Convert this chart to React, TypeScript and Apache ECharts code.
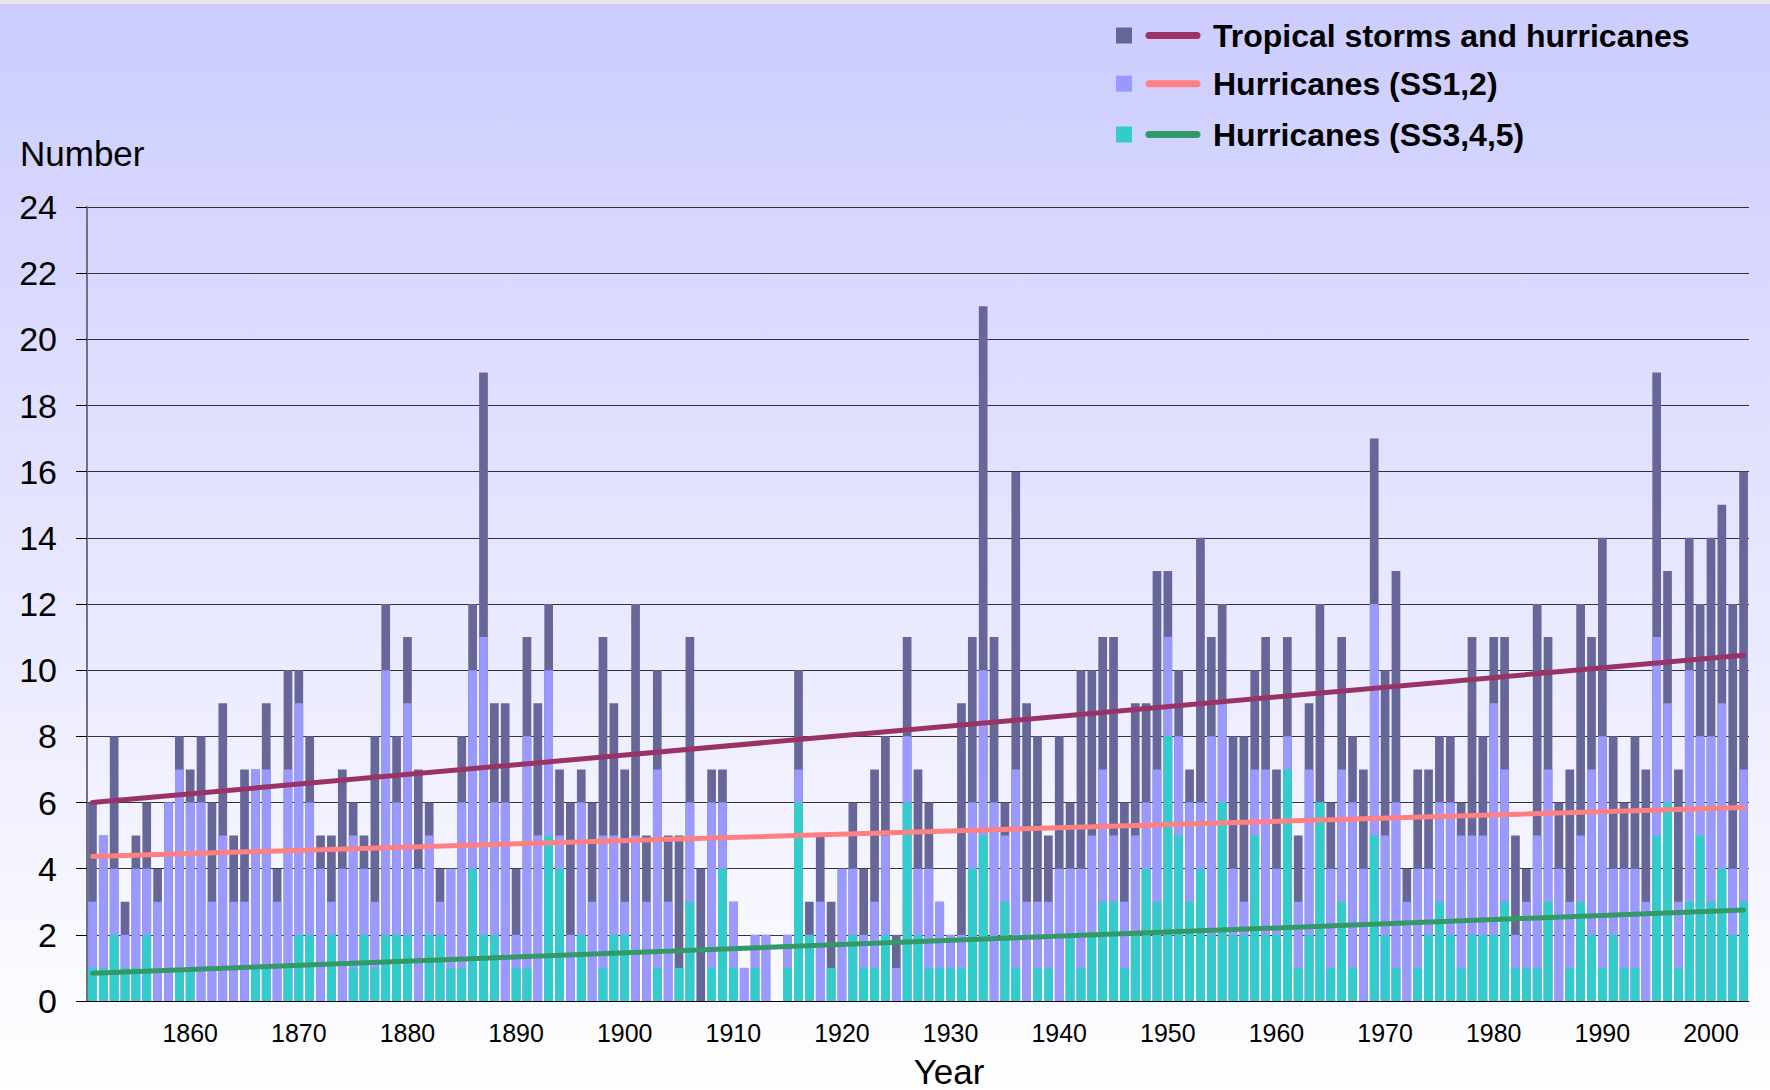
import React, { useEffect, useRef } from "react";
import * as echarts from "echarts";

const FIRST_YEAR = 1851;
const years: string[] = [];
for (let y = FIRST_YEAR; y <= 2003; y++) years.push(String(y));

// Tropical storms and hurricanes (total), 1851-2003
const totalStorms = [
  6, 5, 8, 3, 5, 6, 4, 6, 8, 7,
  8, 6, 9, 5, 7, 7, 9, 4, 10, 10,
  8, 5, 5, 7, 6, 5, 8, 12, 8, 11,
  7, 6, 4, 4, 8, 12, 19, 9, 9, 4,
  11, 9, 12, 7, 6, 7, 6, 11, 9, 7,
  12, 5, 10, 5, 5, 11, 4, 7, 7, 3,
  1, 2, 2, 0, 2, 10, 3, 5, 3, 4,
  6, 4, 7, 8, 2, 11, 7, 6, 3, 2,
  9, 11, 21, 11, 6, 16, 9, 8, 5, 8,
  6, 10, 10, 11, 11, 6, 9, 9, 13, 13,
  10, 7, 14, 11, 12, 8, 8, 10, 11, 7,
  11, 5, 9, 12, 6, 11, 8, 7, 17, 10,
  13, 4, 7, 7, 8, 8, 6, 11, 8, 11,
  11, 5, 4, 12, 11, 6, 7, 12, 11, 14,
  8, 6, 8, 7, 19, 13, 7, 14, 12, 14,
  15, 12, 16,
];

// Hurricanes, 1851-2003
const hurricanes = [
  3, 5, 4, 2, 4, 4, 3, 6, 7, 6,
  6, 3, 5, 3, 3, 7, 7, 3, 7, 9,
  6, 4, 3, 4, 5, 4, 3, 10, 6, 9,
  4, 5, 3, 4, 6, 10, 11, 6, 6, 2,
  8, 5, 10, 5, 2, 6, 3, 5, 5, 3,
  5, 3, 7, 3, 1, 6, 0, 6, 6, 3,
  1, 2, 2, 0, 2, 7, 2, 3, 1, 4,
  4, 2, 3, 5, 1, 8, 4, 4, 3, 2,
  2, 6, 10, 6, 5, 7, 3, 3, 3, 4,
  4, 4, 5, 7, 5, 3, 5, 6, 7, 11,
  8, 6, 6, 8, 9, 4, 3, 7, 7, 4,
  8, 3, 7, 6, 4, 7, 6, 4, 12, 5,
  6, 3, 4, 4, 6, 6, 5, 5, 5, 9,
  7, 2, 3, 5, 7, 4, 3, 5, 7, 8,
  4, 4, 4, 3, 11, 9, 3, 10, 8, 8,
  9, 4, 7,
];

// Major hurricanes (SS3,4,5), 1851-2003
const majorHurricanes = [
  1, 1, 2, 1, 1, 2, 0, 0, 1, 1,
  0, 0, 0, 0, 0, 1, 1, 0, 1, 2,
  2, 0, 2, 0, 1, 2, 1, 2, 2, 2,
  0, 2, 2, 1, 1, 4, 2, 2, 0, 1,
  1, 0, 5, 4, 0, 2, 0, 1, 2, 2,
  0, 0, 1, 0, 1, 3, 0, 1, 4, 1,
  0, 1, 0, 0, 1, 6, 2, 0, 1, 0,
  2, 1, 1, 2, 0, 6, 2, 1, 1, 1,
  1, 4, 5, 0, 3, 1, 0, 1, 1, 0,
  2, 1, 2, 3, 3, 1, 2, 4, 3, 8,
  5, 3, 4, 2, 6, 2, 2, 5, 2, 2,
  7, 1, 2, 6, 1, 3, 1, 0, 5, 2,
  1, 0, 1, 2, 3, 2, 1, 2, 2, 2,
  3, 1, 1, 1, 3, 0, 1, 3, 2, 1,
  2, 1, 1, 0, 5, 6, 1, 3, 5, 3,
  4, 2, 3,
];

// Linear trend lines: [year, value] at start and end
const trendStorms = [[1851, 6.0], [2003, 10.45]];
const trendHurricanes = [[1851, 4.37], [2003, 5.85]];
const trendMajor = [[1851, 0.84], [2003, 2.75]];

const yTicks = { min: 0, max: 24, interval: 2 };

const legendItems = [
  { name: "Tropical storms and hurricanes", bar: "#666699", line: "#993366" },
  { name: "Hurricanes (SS1,2)", bar: "#9999FF", line: "#FF8080" },
  { name: "Hurricanes (SS3,4,5)", bar: "#33CCCC", line: "#339966" },
];

const FONT = "'Liberation Sans', Arial, Helvetica, sans-serif";

export default function App() {
  const ref = useRef<HTMLDivElement>(null);

  useEffect(() => {
    if (!ref.current) return;
    const chart = echarts.init(ref.current, null, { renderer: "svg" });

    const legendGraphics: any[] = [];
    const rowY = [35.5, 83.7, 134.5];
    legendItems.forEach((it, i) => {
      const y = rowY[i];
      legendGraphics.push({
        type: "rect",
        shape: { x: 1116, y: y - 8, width: 16, height: 16 },
        style: { fill: it.bar },
        silent: true,
      });
      legendGraphics.push({
        type: "line",
        shape: { x1: 1149, y1: y, x2: 1197, y2: y },
        style: { stroke: it.line, lineWidth: 7, lineCap: "round" },
        silent: true,
      });
      legendGraphics.push({
        type: "text",
        x: 1213,
        y: y,
        style: {
          text: it.name,
          fontSize: 32,
          fontWeight: "bold",
          fontFamily: FONT,
          fill: "#000",
          verticalAlign: "middle",
          align: "left",
        },
        silent: true,
      });
    });

    const option: any = {
      animation: false,
      backgroundColor: "transparent",
      textStyle: { fontFamily: FONT },
      grid: { left: 87, right: 21, top: 207, bottom: 89 },
      xAxis: [
        {
          type: "category",
          data: years,
          boundaryGap: true,
          axisLine: { show: true, lineStyle: { color: "#000", width: 1 } },
          axisTick: { show: false },
          splitLine: { show: false },
          axisLabel: {
            interval: (_i: number, v: string) => Number(v) % 10 === 0,
            fontSize: 25,
            color: "#000",
            fontFamily: FONT,
            margin: 19,
          },
        },
        {
          type: "value",
          min: 1850.5,
          max: 2003.5,
          show: false,
        },
      ],
      yAxis: {
        type: "value",
        min: yTicks.min,
        max: yTicks.max,
        interval: yTicks.interval,
        axisLine: { show: true, lineStyle: { color: "#707080", width: 2 } },
        axisTick: { show: true, length: 11, lineStyle: { color: "#000", width: 1 } },
        splitLine: { show: true, lineStyle: { color: "#333", width: 1 } },
        axisLabel: { fontSize: 34, color: "#000", fontFamily: FONT, margin: 30 },
      },
      graphic: [
        {
          type: "text",
          x: 20,
          y: 153,
          style: {
            text: "Number",
            fontSize: 35,
            fontFamily: FONT,
            fill: "#000",
            verticalAlign: "middle",
          },
          silent: true,
        },
        {
          type: "text",
          x: 949,
          y: 1071,
          style: {
            text: "Year",
            fontSize: 35,
            lineHeight: 35,
            fontFamily: FONT,
            fill: "#000",
            align: "center",
            verticalAlign: "middle",
          },
          silent: true,
        },
        ...legendGraphics,
      ],
      series: [
        {
          name: legendItems[0].name,
          type: "bar",
          xAxisIndex: 0,
          data: totalStorms,
          barGap: "-100%",
          barCategoryGap: "20%",
          itemStyle: { color: legendItems[0].bar },
          z: 2,
        },
        {
          name: legendItems[1].name,
          type: "bar",
          xAxisIndex: 0,
          data: hurricanes,
          barGap: "-100%",
          barCategoryGap: "20%",
          itemStyle: { color: legendItems[1].bar },
          z: 2,
        },
        {
          name: legendItems[2].name,
          type: "bar",
          xAxisIndex: 0,
          data: majorHurricanes,
          barGap: "-100%",
          barCategoryGap: "20%",
          itemStyle: { color: legendItems[2].bar },
          z: 2,
        },
        {
          name: "trend-storms",
          type: "line",
          xAxisIndex: 1,
          data: trendStorms,
          symbol: "none",
          lineStyle: { color: legendItems[0].line, width: 5, cap: "round" },
          z: 5,
        },
        {
          name: "trend-hurricanes",
          type: "line",
          xAxisIndex: 1,
          data: trendHurricanes,
          symbol: "none",
          lineStyle: { color: legendItems[1].line, width: 5, cap: "round" },
          z: 5,
        },
        {
          name: "trend-major",
          type: "line",
          xAxisIndex: 1,
          data: trendMajor,
          symbol: "none",
          lineStyle: { color: legendItems[2].line, width: 5, cap: "round" },
          z: 5,
        },
      ],
    };

    chart.setOption(option);
    return () => chart.dispose();
  }, []);

  return (
    <div
      ref={ref}
      style={{
        position: "absolute",
        left: 0,
        top: 0,
        width: 1770,
        height: 1090,
        background:
          "linear-gradient(to bottom, #E8E8E8 0px, #E8E8E8 4px, #CCCCFF 4px, #FFFFFF 100%)",
      }}
    />
  );
}
